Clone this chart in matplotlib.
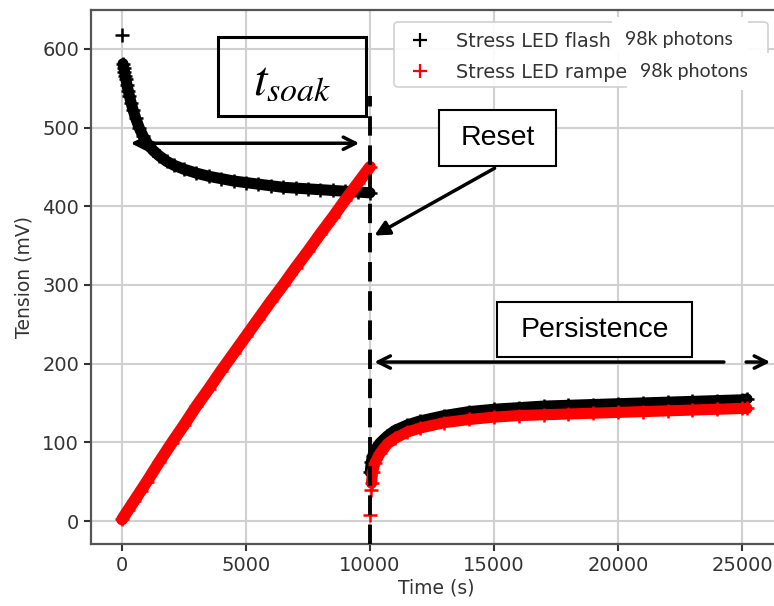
import matplotlib
matplotlib.use("Agg")
import matplotlib.pyplot as plt
from matplotlib.patches import Rectangle, FancyBboxPatch
from matplotlib.lines import Line2D

# Soak phase, LED flash (black)
soak_t = [0, 40, 70, 100, 130, 160, 200, 250, 300, 370, 450, 550, 700, 850, 1000,
          1250, 1500, 1800, 2100, 2500, 3000, 3500, 4000, 4500, 5000, 5500, 6000,
          6500, 7000, 7500, 8000, 8500, 9000, 9500, 10000]
flash_soak = [617, 581, 576, 571, 566, 561, 554, 547, 540, 531, 522, 512, 499, 489, 481,
              471, 464, 457, 452, 447, 442, 438, 435, 432, 430, 428, 426,
              424, 423, 422, 421, 420, 419, 418, 417]

# Soak phase, LED ramp (red)
ramp_t = [0, 250, 500, 750, 1000, 1500, 2000, 2500, 3000, 3500, 4000, 4500, 5000,
          5500, 6000, 6500, 7000, 7500, 8000, 8500, 9000, 9500, 10000]
ramp_soak = [2, 14, 26, 38, 50, 75, 99, 122, 146, 168, 191, 213, 235,
             257, 279, 300, 322, 343, 365, 386, 408, 429, 450]

# Persistence after reset
flash_post_t = [10010, 10050, 10100, 10200, 10400, 10700, 11000, 11500, 12000, 13000,
                14000, 15000, 16000, 17000, 18000, 19000, 20000, 21000, 22000, 23000,
                24000, 25000, 25200]
flash_post = [62, 75, 82, 90, 99, 108, 115, 122, 127, 134,
              139, 142, 144, 146, 147, 148, 149, 150, 151, 152,
              153, 154, 155]
ramp_post_t = [10010, 10040, 10060, 10100, 10200, 10400, 10700, 11000, 11500, 12000,
               13000, 14000, 15000, 16000, 17000, 18000, 19000, 20000, 21000, 22000,
               23000, 24000, 25000, 25200]
ramp_post = [8, 40, 48, 62, 74, 86, 98, 105, 113, 118,
             125, 129, 132, 134, 135, 136, 137, 138, 139, 140,
             141, 142, 143, 143]

labels = ["Stress LED flash", "Stress LED rampe"]
x_ticks = [0, 5000, 10000, 15000, 20000, 25000]
y_ticks = [0, 100, 200, 300, 400, 500, 600]

W, H = 774, 606
def fx(px):
    return px / W
def fy(py):
    return 1 - py / H

plt.rcParams["mathtext.fontset"] = "stix"
fig = plt.figure(figsize=(W / 100, H / 100), dpi=100)
ax = fig.add_axes([fx(91), 62 / H, 691 / W, 534 / H])
ax.set_xlim(-1250, 26610)
ax.set_ylim(-29.2, 649.3)

ax.grid(True, color="#d0d0d0", lw=1.5)
ax.set_axisbelow(True)
for s in ax.spines.values():
    s.set_color("#555555")
    s.set_linewidth(1.6)
ax.set_xticks(x_ticks)
ax.set_yticks(y_ticks)
ax.tick_params(labelsize=14, length=5, width=1.5, colors="#333333")
ax.set_xlabel("Time (s)", fontsize=13.5, color="#333333", labelpad=3)
ax.set_ylabel("Tension (mV)", fontsize=13.5, color="#333333", labelpad=6)

# black series: thick band of markers
ax.plot(soak_t[1:], flash_soak[1:], color="k", lw=8, solid_capstyle="round", zorder=3)
ax.plot(soak_t, flash_soak, "+", color="k", ms=10, mew=1.8, zorder=3)
ax.plot(flash_post_t, flash_post, color="k", lw=8, solid_capstyle="round", zorder=3)
ax.plot(flash_post_t, flash_post, "+", color="k", ms=10, mew=1.8, zorder=3)

# red series on top
ax.plot(ramp_t, ramp_soak, color="red", lw=8.5, solid_capstyle="round", zorder=4)
ax.plot(ramp_t, ramp_soak, "+", color="red", ms=10, mew=1.8, zorder=4)
ax.plot(ramp_post_t[2:], ramp_post[2:], color="red", lw=8, solid_capstyle="round", zorder=4)
ax.plot(ramp_post_t, ramp_post, "+", color="red", ms=10, mew=1.8, zorder=4)

# reset marker
ax.plot([10000, 10000], [-29.2, 540], color="k", lw=2.8, linestyle=(0, (5, 2.5)),
        zorder=5, clip_on=False)

# t_soak annotation
ax.add_patch(Rectangle((3870, 515), 5970, 100, fill=False, ec="k", lw=2.2, zorder=6))
ax.text(6855, 560, r"$t_{soak}$", fontsize=35, ha="center", va="center", zorder=6)
ax.annotate("", xy=(240, 480), xytext=(9680, 480),
            arrowprops=dict(arrowstyle="<->", lw=2.5, color="k", mutation_scale=22),
            zorder=6)

# Reset annotation
ax.add_patch(Rectangle((12780, 451), 4720, 71, fc="white", ec="k", lw=1.5, zorder=6))
ax.text(15140, 487, "Reset", fontsize=20.5, family="Liberation Sans",
        ha="center", va="center", zorder=7)
ax.annotate("", xy=(10080, 361), xytext=(15120, 450),
            arrowprops=dict(arrowstyle="-|>", lw=2.5, color="k", mutation_scale=22),
            zorder=6)

# Persistence annotation
ax.add_patch(Rectangle((15120, 208), 7860, 70, fc="white", ec="k", lw=1.5, zorder=6))
ax.text(19050, 243, "Persistence", fontsize=20.5, family="Liberation Sans",
        ha="center", va="center", zorder=7)
ax.annotate("", xy=(10060, 202), xytext=(24380, 202),
            arrowprops=dict(arrowstyle="->", lw=2.5, color="k", mutation_scale=22),
            zorder=6)
ax.annotate("", xy=(26250, 202), xytext=(25050, 202),
            arrowprops=dict(arrowstyle="->", lw=2.5, color="k", mutation_scale=22),
            zorder=6, annotation_clip=False)

# legend with its own frame
ax.add_patch(FancyBboxPatch((fx(394), fy(87)), fx(768) - fx(394), fy(22) - fy(87),
                            boxstyle="round,pad=0,rounding_size=0.006",
                            transform=fig.transFigure, fc="white", ec="#cccccc",
                            lw=1.2, alpha=0.9, zorder=8, clip_on=False))
handles = [Line2D([], [], ls="none", marker="+", color="k", ms=10, mew=1.6),
           Line2D([], [], ls="none", marker="+", color="red", ms=10, mew=1.6)]
leg = ax.legend(handles, labels, loc="upper left", bbox_to_anchor=(fx(398), fy(24)),
                bbox_transform=fig.transFigure, frameon=False, fontsize=13.8,
                borderaxespad=0, borderpad=0.4, labelspacing=0.62, handlelength=1.5,
                handletextpad=1.1)
for t in leg.get_texts():
    t.set_color("#333333")
leg.set_zorder(9)

fig.add_artist(Rectangle((fx(612), fy(53)), fx(748) - fx(612), fy(17) - fy(53),
                         transform=fig.transFigure, fc="white", ec="none", zorder=10))
fig.add_artist(Rectangle((fx(627), fy(90)), fx(776) - fx(627), fy(53) - fy(90),
                         transform=fig.transFigure, fc="white", ec="none", zorder=10))
fig.text(fx(625), fy(40), "98k photons", fontsize=14, family="Lato", color="#333333",
         ha="left", va="center", zorder=11)
fig.text(fx(640), fy(71), "98k photons", fontsize=14, family="Lato", color="#333333",
         ha="left", va="center", zorder=11)

fig.savefig("out.png", dpi=100)
